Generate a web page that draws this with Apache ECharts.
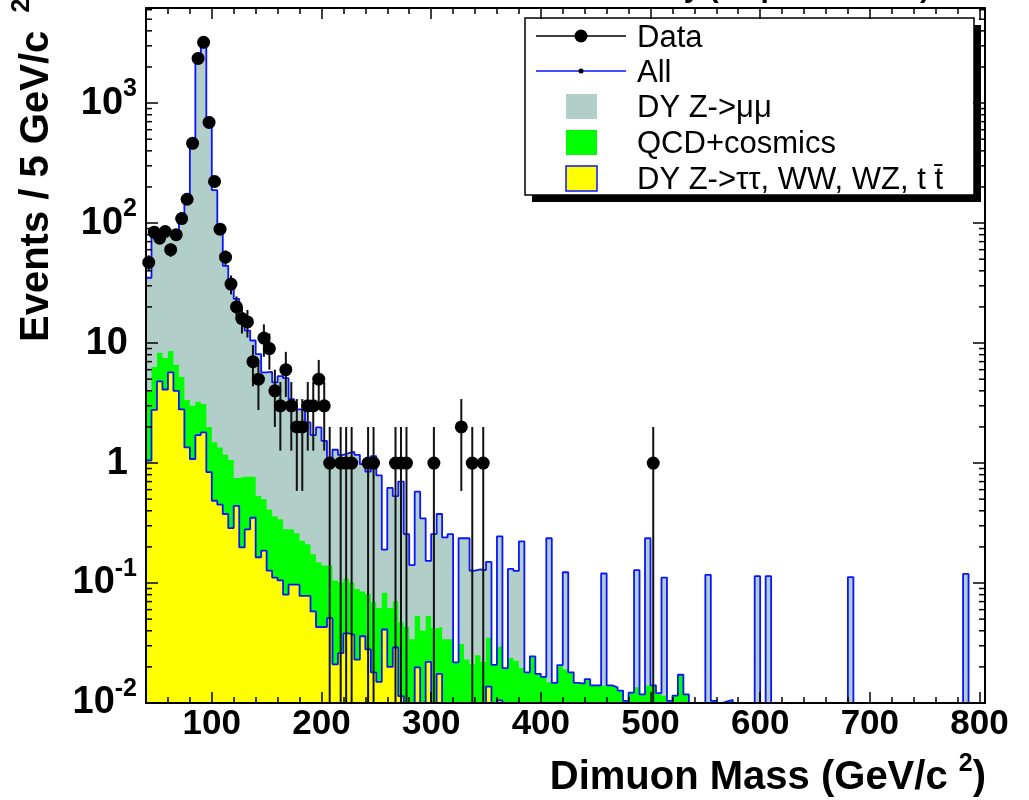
<!DOCTYPE html>
<html style="height: 100%">
<head>
    <meta charset="utf-8">
    <title>Dimuon Mass</title>
    <script src="https://cdn.jsdelivr.net/npm/echarts@6.0.0/dist/echarts.min.js"></script>
</head>
<body style="height: 100%; margin: 0">
<div id="container" style="width: 1029px; height: 800px"></div>

<script type="text/javascript">
    var dom = document.getElementById("container");
    var myChart = echarts.init(dom);

    // histogram binning (GeV/c^2)
    var xMin = 40, xMax = 805, binWidth = 5;
    var yMin = 0.01, yMax = 6200;

    // DY Z->tautau, WW, WZ, ttbar  (bottom of the stack)
    var ewkStack = [
        1.05, 2.77, 4.8, 4.1, 5.7, 4.0, 2.8, 1.35, 1.08, 1.71,
        1.8, 0.84, 0.485, 0.45, 0.376, 0.287, 0.44, 0.198, 0.28, 0.35,
        0.164, 0.186, 0.127, 0.111, 0.105, 0.08, 0.097, 0.097, 0.078, 0.078,
        0.058, 0.043, 0.043, 0.051, 0.021, 0.026, 0.038, 0.037, 0.023, 0.036,
        0.028, 0.018, 0.015, 0.041, 0.020, 0.029, 0.0114, 0, 0, 0.0198,
        0, 0.022, 0, 0.0175, 0, 0, 0, 0, 0, 0,
        0, 0, 0.0137, 0, 0.0105, 0, 0, 0, 0, 0,
        0, 0, 0, 0, 0, 0, 0, 0, 0, 0,
        0, 0, 0, 0, 0, 0, 0, 0, 0, 0,
        0, 0, 0, 0, 0, 0, 0, 0, 0, 0,
        0, 0, 0, 0, 0, 0, 0, 0, 0, 0,
        0, 0, 0, 0, 0, 0, 0, 0, 0, 0,
        0, 0, 0, 0, 0, 0, 0, 0, 0, 0,
        0, 0, 0, 0, 0, 0, 0, 0, 0, 0,
        0, 0, 0, 0, 0, 0, 0, 0, 0, 0,
        0, 0, 0
    ];

    // + QCD+cosmics  (top of the green layer)
    var qcdStack = [
        3.9, 6.3, 8.3, 7.5, 8.6, 6.6, 5.2, 3.35, 3.0, 3.24,
        3.1, 2.0, 1.49, 1.35, 1.17, 1.06, 0.75, 0.77, 0.77, 0.77,
        0.53, 0.5, 0.41, 0.36, 0.34, 0.28, 0.28, 0.26, 0.225, 0.21,
        0.174, 0.149, 0.14, 0.14, 0.105, 0.101, 0.109, 0.101, 0.089, 0.085,
        0.081, 0.069, 0.062, 0.083, 0.062, 0.07, 0.047, 0.043, 0.034, 0.053,
        0.04, 0.053, 0.042, 0.043, 0.034, 0.034, 0.0218, 0.031, 0.023, 0.021,
        0.025, 0.022, 0.035, 0.0208, 0.0295, 0.0195, 0.0237, 0.0225, 0.0196, 0.018,
        0.0245, 0.0175, 0.0165, 0.0149, 0.0147, 0.0207, 0.019, 0.018, 0.0147, 0.0145,
        0.0158, 0.014, 0.014, 0.014, 0.014, 0.0135, 0.0127, 0.0104, 0.0122, 0.0135,
        0.0118, 0.014, 0.014, 0.0121, 0.0115, 0.0104, 0.0115, 0.0172, 0.0118, 0.0099,
        0, 0, 0, 0.0104, 0, 0.0103, 0.0106, 0, 0, 0,
        0, 0, 0, 0, 0, 0, 0, 0, 0, 0,
        0, 0, 0, 0, 0, 0, 0, 0, 0, 0,
        0, 0, 0, 0, 0, 0, 0, 0, 0, 0,
        0, 0, 0, 0, 0, 0, 0, 0, 0, 0,
        0, 0, 0
    ];

    // All = full stack, + DY Z->mumu
    var allStack = [
        35, 77, 82, 79, 83, 82, 111, 169, 464, 2208,
        3243, 760, 188, 89, 44, 29, 23.3, 15.8, 12.7, 10.5,
        8.1, 5.7, 5.75, 4.7, 5.3, 5.1, 3.4, 2.8, 2.78, 2.18,
        1.71, 1.98, 1.53, 1.11, 1.29, 1.17, 1.21, 1.24, 1.17, 0.98,
        0.85, 1.14, 0.79, 0.19, 0.62, 0.53, 0.70, 0.256, 0.141, 0.577,
        0.346, 0.153, 0.256, 0.376, 0.24, 0.256, 0.0218, 0.236, 0.236, 0.127,
        0.13, 0.128, 0.15, 0.0208, 0.245, 0.0195, 0.131, 0.126, 0.222, 0.018,
        0.0245, 0.0175, 0.0165, 0.236, 0.0147, 0.0207, 0.123, 0.018, 0.0147, 0.0145,
        0.0158, 0.014, 0.014, 0.12, 0.014, 0.0135, 0.0127, 0.0104, 0.0122, 0.128,
        0.0118, 0.236, 0.014, 0.0121, 0.111, 0.0104, 0.0115, 0.0172, 0.0118, 0.0099,
        0, 0, 0.117, 0.0104, 0, 0.0103, 0.0106, 0, 0, 0,
        0, 0.114, 0, 0.114, 0, 0, 0, 0, 0, 0,
        0, 0, 0, 0, 0, 0, 0, 0, 0.112, 0,
        0, 0, 0, 0, 0, 0, 0, 0, 0, 0,
        0, 0, 0, 0, 0, 0, 0, 0, 0, 0.119,
        0, 0, 0
    ];

    // data: low edge of the bin and number of events
    var dataBinLow = [
        40, 45, 50, 55, 60, 65, 70, 75, 80, 85, 90, 95, 100, 105, 110, 115,
        120, 125, 130, 135, 140, 145, 150, 155, 160, 165, 170, 175, 180, 185,
        190, 195, 200, 205, 215, 220, 225, 240, 245, 265, 270, 275, 300, 325,
        335, 345, 500
    ];
    var dataCounts = [
        47, 84, 75, 85, 60, 80, 109, 158, 462, 2357, 3206, 690, 222, 89, 52, 31,
        20, 16, 15, 7, 5, 11, 9, 4, 3, 6, 3, 2, 2, 3,
        3, 5, 3, 1, 1, 1, 1, 1, 1, 1, 1, 1, 1, 2,
        1, 1, 1
    ];

    var colGrey = '#b2cec8', colGreen = '#00ff00', colYellow = '#ffff00', colBlue = '#0a14ff';
    var fontFam = '"Liberation Sans", Arial, Helvetica, sans-serif';

    // histogram -> step points, empty bins sit on the axis floor
    function stepData(vals) {
        var res = [];
        for (var i = 0; i < vals.length; i++) {
            res.push([xMin + i * binWidth, Math.max(vals[i], yMin)]);
        }
        res.push([xMin + vals.length * binWidth, Math.max(vals[vals.length - 1], yMin)]);
        return res;
    }

    var points = dataBinLow.map(function (lo, i) {
        return [lo + binWidth / 2, dataCounts[i]];
    });

    // ROOT style log minor ticks 2..9 x 10^n
    var minorVals = [];
    for (var e = -2; e <= 3; e++) {
        for (var k = 2; k <= 9; k++) {
            var v = k * Math.pow(10, e);
            if (v < yMax) minorVals.push([xMin, v]);
        }
    }

    function logLabel(val) {
        var lg = Math.log10(val);
        var e = Math.round(lg);
        if (Math.abs(lg - e) > 1e-6) return '';
        if (e === 0) return '{b|1}{pad|}';
        if (e === 1) return '{b|10}{pad|}';
        return '{b|10}{s|' + e + '}';
    }

    var tickLine = {color: '#000', width: 1.5};
    var axisLine = {show: true, lineStyle: {color: '#000', width: 2}};

    var titleRich = {
        t: {fontSize: 40, fontWeight: 'bold', fontFamily: fontFam, fill: '#000', lineHeight: 52},
        s: {fontSize: 25, fontWeight: 'bold', fontFamily: fontFam, fill: '#000', verticalAlign: 'top', lineHeight: 25}
    };
    var yTitleRich = {
        t: {fontSize: 40, fontWeight: 'bold', fontFamily: fontFam, fill: '#000', lineHeight: 54},
        s: {fontSize: 25, fontWeight: 'bold', fontFamily: fontFam, fill: '#000', verticalAlign: 'top', lineHeight: 25, padding: [0, 0, 0, 7]}
    };

    option = {
        animation: false,
        backgroundColor: '#ffffff',
        textStyle: {fontFamily: fontFam},
        grid: {left: 146, right: 44, top: 8, bottom: 97, containLabel: false, outerBoundsMode: 'none'},
        xAxis: [{
            type: 'value', min: xMin, max: xMax, splitNumber: 8, z: 10,
            axisLine: axisLine,
            axisTick: {show: true, inside: true, length: 11, lineStyle: tickLine},
            minorTick: {show: true, splitNumber: 5, length: 6, lineStyle: tickLine},
            splitLine: {show: false},
            axisLabel: {
                show: true, margin: 4, fontSize: 35, fontWeight: 'bold', color: '#000',
                fontFamily: fontFam, showMinLabel: false, showMaxLabel: false
            }
        }, {
            type: 'value', position: 'top', min: xMin, max: xMax, splitNumber: 8, z: 10,
            axisLine: axisLine,
            axisTick: {show: true, inside: true, length: 11, lineStyle: tickLine},
            minorTick: {show: true, splitNumber: 5, length: 6, lineStyle: tickLine},
            splitLine: {show: false},
            axisLabel: {show: false}
        }],
        yAxis: [{
            type: 'log', logBase: 10, min: yMin, max: yMax, z: 10,
            axisLine: axisLine,
            axisTick: {show: true, inside: true, length: 12, lineStyle: tickLine},
            splitLine: {show: false},
            axisLabel: {
                show: true, margin: 9, color: '#000', showMaxLabel: false,
                formatter: logLabel,
                rich: {
                    b: {fontSize: 38, fontWeight: 'bold', fontFamily: fontFam, color: '#000', lineHeight: 52},
                    s: {fontSize: 25, fontWeight: 'bold', fontFamily: fontFam, color: '#000', verticalAlign: 'top', lineHeight: 25},
                    pad: {width: 9}
                }
            }
        }, {
            type: 'log', logBase: 10, position: 'right', min: yMin, max: yMax, z: 10,
            axisLine: axisLine,
            axisTick: {show: true, inside: true, length: 12, lineStyle: tickLine},
            splitLine: {show: false},
            axisLabel: {show: false}
        }],
        series: [{
            name: 'DY Z->μμ',
            type: 'line', step: 'end', symbol: 'none', z: 2,
            lineStyle: {width: 0},
            areaStyle: {color: colGrey, opacity: 1, origin: 'start'},
            data: stepData(allStack)
        }, {
            name: 'QCD+cosmics',
            type: 'line', step: 'end', symbol: 'none', z: 3,
            lineStyle: {width: 0},
            areaStyle: {color: colGreen, opacity: 1, origin: 'start'},
            data: stepData(qcdStack)
        }, {
            name: 'DY Z->ττ, WW, WZ, t t̄',
            type: 'line', step: 'end', symbol: 'none', z: 4,
            lineStyle: {color: colBlue, width: 1.8},
            areaStyle: {color: colYellow, opacity: 1, origin: 'start'},
            data: stepData(ewkStack)
        }, {
            name: 'All',
            type: 'line', step: 'end', symbol: 'none', z: 5,
            lineStyle: {color: colBlue, width: 1.8},
            data: stepData(allStack)
        }, {
            name: 'Data errors',
            type: 'custom', z: 6,
            renderItem: function (params, api) {
                var x = api.value(0), n = api.value(1);
                var s = Math.sqrt(n);
                var top = api.coord([x, n + s]);
                var bot = api.coord([x, Math.max(n - s, yMin)]);
                return {
                    type: 'line',
                    shape: {x1: top[0], y1: top[1], x2: bot[0], y2: bot[1]},
                    style: {stroke: '#111', lineWidth: 2}
                };
            },
            encode: {x: 0, y: 1},
            data: points
        }, {
            name: 'Data',
            type: 'scatter', z: 7,
            symbol: 'circle', symbolSize: 13,
            itemStyle: {color: '#000', opacity: 1},
            data: points
        }, {
            name: 'minor ticks',
            type: 'custom', z: 8, silent: true,
            renderItem: function (params, api) {
                var p = api.coord([xMin, api.value(1)]);
                var cs = params.coordSys;
                return {
                    type: 'group',
                    children: [{
                        type: 'line',
                        shape: {x1: cs.x, y1: p[1], x2: cs.x + 6, y2: p[1]},
                        style: {stroke: '#000', lineWidth: 1.5}
                    }, {
                        type: 'line',
                        shape: {x1: cs.x + cs.width, y1: p[1], x2: cs.x + cs.width - 6, y2: p[1]},
                        style: {stroke: '#000', lineWidth: 1.5}
                    }]
                };
            },
            encode: {x: 0, y: 1},
            data: minorVals
        }],
        graphic: [{
            // plot title, mostly above the canvas
            type: 'text', x: 462, y: -11, z: 20,
            style: {
                text: 'CMS Preliminary (10 pb\u207B\u00B9 10 TeV)',
                font: 'bold 30px ' + fontFam, fill: '#000',
                align: 'left', verticalAlign: 'middle'
            }
        }, {
            // axis titles
            type: 'text', x: 986, y: 778, z: 20,
            style: {
                text: '{t|Dimuon Mass (GeV/c }{s|2}{t|)}',
                align: 'right', verticalAlign: 'middle',
                rich: titleRich
            }
        }, {
            type: 'text', x: 37, y: 342, rotation: Math.PI / 2, z: 20,
            style: {
                text: '{t|Events / 5 GeV/c }{s|2}',
                align: 'left', verticalAlign: 'middle',
                rich: yTitleRich
            }
        }, {
            // legend box with hard shadow
            type: 'group', z: 30,
            children: [
                {type: 'rect', shape: {x: 532, y: 25, width: 449, height: 177}, style: {fill: '#000'}},
                {type: 'rect', shape: {x: 525, y: 18, width: 449, height: 177}, style: {fill: '#fff', stroke: '#000', lineWidth: 1.5}},
                {type: 'line', shape: {x1: 536, y1: 36, x2: 626, y2: 36}, style: {stroke: '#000', lineWidth: 1.5}},
                {type: 'circle', shape: {cx: 581, cy: 36, r: 6.5}, style: {fill: '#000'}},
                {type: 'line', shape: {x1: 536, y1: 71, x2: 626, y2: 71}, style: {stroke: colBlue, lineWidth: 1.5}},
                {type: 'circle', shape: {cx: 581, cy: 71, r: 2.5}, style: {fill: '#000'}},
                {type: 'rect', shape: {x: 566, y: 94, width: 31, height: 25}, style: {fill: colGrey}},
                {type: 'rect', shape: {x: 566, y: 130, width: 31, height: 25}, style: {fill: colGreen}},
                {type: 'rect', shape: {x: 566, y: 166, width: 31, height: 25}, style: {fill: colYellow, stroke: colBlue, lineWidth: 1.5}},
                {type: 'text', x: 637, y: 38, style: {text: 'Data', font: '31px ' + fontFam, fill: '#000', verticalAlign: 'middle'}},
                {type: 'text', x: 637, y: 73, style: {text: 'All', font: '31px ' + fontFam, fill: '#000', verticalAlign: 'middle'}},
                {type: 'text', x: 637, y: 108, style: {text: 'DY Z->μμ', font: '31px ' + fontFam, fill: '#000', verticalAlign: 'middle'}},
                {type: 'text', x: 637, y: 144, style: {text: 'QCD+cosmics', font: '31px ' + fontFam, fill: '#000', verticalAlign: 'middle'}},
                {type: 'text', x: 637, y: 180, style: {text: 'DY Z->ττ, WW, WZ, t t\u0304', font: '31px ' + fontFam, fill: '#000', verticalAlign: 'middle'}}
            ]
        }]
    };

    if (option && typeof option === "object") {
        myChart.setOption(option, true);
    }
</script>
</body>
</html>
